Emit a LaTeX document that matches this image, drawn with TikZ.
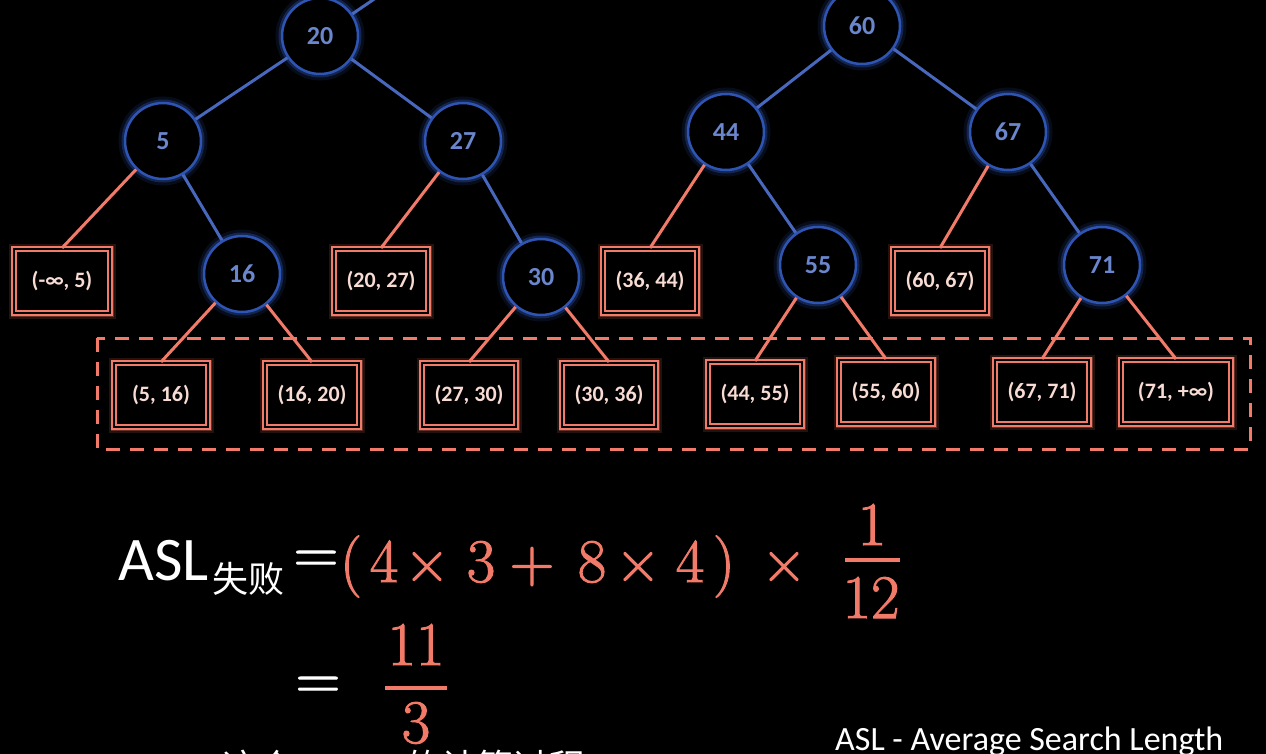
\documentclass[tikz,border=0pt]{standalone}
\usepackage{fontspec}
\newfontfamily\calib{Carlito}
\newfontfamily\cjk{Noto Sans CJK SC}
\newfontfamily\redser{Latin Modern Roman}[FakeBold=1.6]
\usetikzlibrary{shapes.geometric}
\definecolor{nodeblue}{HTML}{2F55B4}
\definecolor{edgeblue}{HTML}{4868BE}
\definecolor{labelblue}{HTML}{6A86CC}
\definecolor{salmon}{HTML}{F27A68}
\definecolor{boxtext}{HTML}{F8DCD4}
\begin{document}
\begin{tikzpicture}[x=1pt,y=-1pt,
  keynode/.style={circle, minimum size=76pt, inner sep=0pt, fill=black,
    draw=nodeblue, line width=2.5pt, text=labelblue,
    font=\calib\bfseries\fontsize{26}{30}\selectfont,
    preaction={draw=nodeblue, line width=13pt, opacity=0.15},
    preaction={draw=nodeblue, line width=7pt, opacity=0.35}},
  gapbox/.style={rectangle, minimum width=94pt, minimum height=64pt, inner sep=0pt,
    fill=black, draw=salmon, line width=2pt, double=black, double distance=2.2pt,
    text=boxtext, font=\calib\bfseries\fontsize{22}{26}\selectfont,
    preaction={draw=salmon, line width=11pt, opacity=0.15, double=none},
    preaction={draw=salmon, line width=7pt, opacity=0.3, double=none}},
  blueedge/.style={draw=edgeblue, line width=3pt},
  rededge/.style={draw=salmon, line width=3pt},
  eqsign/.style={text=white, font=\redser\fontsize{62}{70}\selectfont, inner sep=0pt},
  redglyph/.style={text=salmon, anchor=base, font=\redser\fontsize{62}{70}\selectfont, inner sep=0pt}
]
\fill[black] (0,0) rectangle (1266,754);
\clip (0,0) rectangle (1266,754);

% tree 1
\node[keynode] (n20) at (320,36) {20};
\node[keynode] (n5) at (163,141) {5};
\node[keynode] (n27) at (463,141) {27};
\node[keynode] (n16) at (242,274) {16};
\node[keynode] (n30) at (541,277) {30};
% tree 2
\node[keynode] (n60) at (862,26) {60};
\node[keynode] (n44) at (726,132) {44};
\node[keynode] (n67) at (1008,132) {67};
\node[keynode] (n55) at (818,265) {55};
\node[keynode] (n71) at (1102,265) {71};
\coordinate (up) at (452,-54);

% failure boxes, level 3
\node[gapbox, minimum width=96pt] (bA) at (62,281) {(-∞, 5)};
\node[gapbox] (bB) at (381,281) {(20, 27)};
\node[gapbox] (bC) at (650,281) {(36, 44)};
\node[gapbox] (bD) at (940,281) {(60, 67)};
% failure boxes, level 4
\node[gapbox] (b1) at (161,395) {(5, 16)};
\node[gapbox] (b2) at (312,395) {(16, 20)};
\node[gapbox] (b3) at (469,395) {(27, 30)};
\node[gapbox] (b4) at (609,395) {(30, 36)};
\node[gapbox] (b5) at (755,394) {(44, 55)};
\node[gapbox] (b6) at (886,392) {(55, 60)};
\node[gapbox] (b7) at (1042,392) {(67, 71)};
\node[gapbox, minimum width=110pt] (b8) at (1176,392) {(71, +∞)};

% blue edges
\draw[blueedge] (n20) -- (up);
\draw[blueedge] (n20) -- (n5);
\draw[blueedge] (n20) -- (n27);
\draw[blueedge] (n5) -- (n16);
\draw[blueedge] (n27) -- (n30);
\draw[blueedge] (n60) -- (n44);
\draw[blueedge] (n60) -- (n67);
\draw[blueedge] (n44) -- (n55);
\draw[blueedge] (n67) -- (n71);
% red edges
\draw[rededge] (n5) -- (bA.north);
\draw[rededge] (n27) -- (bB.north);
\draw[rededge] (n44) -- (bC.north);
\draw[rededge] (n67) -- (bD.north);
\draw[rededge] (n16) -- (b1.north);
\draw[rededge] (n16) -- (b2.north);
\draw[rededge] (n30) -- (b3.north);
\draw[rededge] (n30) -- (b4.north);
\draw[rededge] (n55) -- (b5.north);
\draw[rededge] (n55) -- (b6.north);
\draw[rededge] (n71) -- (b7.north);
\draw[rededge] (n71) -- (b8.north);

% dashed frame round the last level
\draw[salmon, line width=3pt, dash pattern=on 14pt off 10pt] (97,338) rectangle (1250,449);

% formula
\node[text=white, anchor=base west, inner sep=0pt, font=\calib\fontsize{62}{70}\selectfont] (asl) at (118,580) {ASL};
\node[text=white, anchor=base west, inner sep=0pt, font=\cjk\fontsize{36}{40}\selectfont] (sub) at (212,592) {失败};
\node[eqsign] (eq1) at (316,562) {=};
\node[redglyph] (lp) at (351,582) {(};
\node[redglyph] (a4) at (384,582) {4};
\node[redglyph] (x1) at (427,582) {×};
\node[redglyph] (a3) at (481,582) {3};
\node[redglyph] (pl) at (532,582) {+};
\node[redglyph] (a8) at (592,582) {8};
\node[redglyph] (x2) at (638,582) {×};
\node[redglyph] (b4x) at (690,582) {4};
\node[redglyph] (rp) at (724,582) {)};
\node[redglyph] (x3) at (784,582) {×};
\node[redglyph] (num1) at (872,545) {1};
\draw[salmon, line width=4pt] (845,560) -- (900,560);
\node[redglyph] (den1) at (871,618) {12};
\node[eqsign] (eq2) at (318,688) {=};
\node[redglyph] (num2) at (416,665) {11};
\draw[salmon, line width=4pt] (385,688) -- (447,688);
\node[redglyph] (den2) at (416,743) {3};

\node[text=white, anchor=base west, inner sep=0pt, font=\calib\fontsize{34}{40}\selectfont] (note) at (835,750) {ASL - Average Search Length};

% cut-off subtitle at the bottom edge
\node[text=white, anchor=base west, inner sep=0pt, font=\cjk\fontsize{36}{40}\selectfont] (subA) at (222,780) {这个};
\node[text=white, anchor=base west, inner sep=0pt, font=\cjk\fontsize{36}{40}\selectfont] (subB) at (405,780) {的计算过程};
\end{tikzpicture}
\end{document}
